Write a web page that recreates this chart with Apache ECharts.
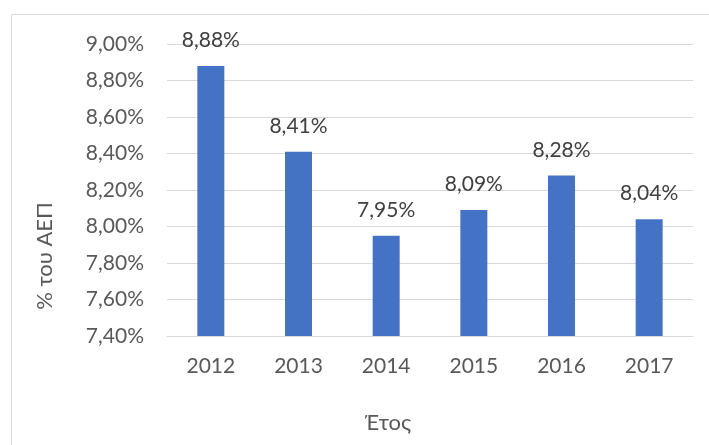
<!DOCTYPE html>
<html>
<head>
<meta charset="utf-8">
<script src="https://cdn.jsdelivr.net/npm/echarts@6/dist/echarts.min.js"></script>
<style>
  html, body { margin: 0; padding: 0; background: #fff; }
  #chart { width: 709px; height: 445px; }
</style>
</head>
<body>
<div id="chart"></div>
<script>
// Public health expenditure as a share of GDP, by year
const years = ['2012', '2013', '2014', '2015', '2016', '2017'];
const sharePct = [8.88, 8.41, 7.95, 8.09, 8.28, 8.04];
const yTicks = { min: 7.4, max: 9.0, step: 0.2 };

const fmt = v => v.toFixed(2).replace('.', ',') + '%';
const FONT = 'Lato, "Open Sans", sans-serif';

const chart = echarts.init(document.getElementById('chart'));
chart.setOption({
  animation: false,
  grid: { left: 167, right: 16, top: 44, bottom: 109 },
  graphic: [
    {
      type: 'rect',
      shape: { x: 11.5, y: 14.5, width: 720, height: 460 },
      style: { fill: 'none', stroke: '#d9d9d9', lineWidth: 1 },
      silent: true
    },
    {
      type: 'text',
      x: 45, y: 256,
      rotation: Math.PI / 2,
      style: {
        text: '% του ΑΕΠ',
        font: '22px ' + FONT,
        fill: '#595959',
        textAlign: 'center',
        textVerticalAlign: 'middle'
      }
    },
    {
      type: 'text',
      x: 388, y: 423,
      style: {
        text: 'Έτος',
        font: '22px ' + FONT,
        fill: '#595959',
        textAlign: 'center',
        textVerticalAlign: 'middle'
      }
    }
  ],
  xAxis: {
    type: 'category',
    data: years,
    axisTick: { show: false },
    axisLine: { lineStyle: { color: '#d9d9d9', width: 1 } },
    axisLabel: { color: '#595959', fontSize: 21, fontFamily: FONT, margin: 20 }
  },
  yAxis: {
    type: 'value',
    min: yTicks.min,
    max: yTicks.max,
    interval: yTicks.step,
    axisLine: { show: false },
    axisTick: { show: false },
    splitLine: { lineStyle: { color: '#d9d9d9', width: 1 } },
    axisLabel: {
      color: '#595959', fontSize: 21, fontFamily: FONT, margin: 23,
      formatter: v => fmt(v)
    }
  },
  series: [{
    type: 'bar',
    data: sharePct,
    barWidth: 27,
    itemStyle: { color: '#4472c4' },
    label: {
      show: true,
      position: 'top',
      distance: 15,
      color: '#404040',
      fontSize: 21,
      fontFamily: FONT,
      formatter: p => fmt(p.value)
    }
  }]
});
</script>
</body>
</html>
